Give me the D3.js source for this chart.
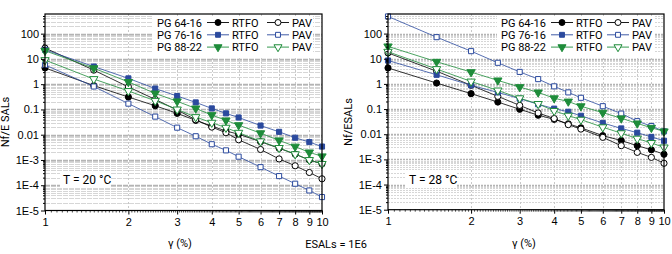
<!DOCTYPE html>
<html>
<head>
<meta charset="utf-8">
<script src="https://cdn.jsdelivr.net/npm/d3@7"></script>
<style>
  body { margin: 0; background: #fff; }
  svg { display: block; font-family: "Liberation Sans Narrow", "Roboto", "Noto Sans", sans-serif; }
</style>
</head>
<body>
<svg id="chart" width="672" height="254"></svg>
<script>
// strain levels (%) used in every series
const strain = [1, 1.5, 2, 2.5, 3, 3.5, 4, 4.5, 5, 6, 7, 8, 9, 10];

// T = 20 °C, Nf / ESALs
const t20_6416_rtfo = [4.4, 0.88, 0.31, 0.14, 0.07, 0.037, 0.022, 0.014, 0.0105, 0.0053, 0.0029, 0.0017, 0.001, 0.0007];
const t20_6416_pav = [27, 3.6, 0.78, 0.25, 0.095, 0.039, 0.02, 0.012, 0.0063, 0.0026, 0.0011, 0.00059, 0.00032, 0.00018];
const t20_7616_rtfo = [23, 5.0, 1.7, 0.67, 0.34, 0.19, 0.11, 0.07, 0.048, 0.023, 0.013, 0.0076, 0.0051, 0.0034];
const t20_7616_pav = [5.8, 0.81, 0.17, 0.052, 0.019, 0.0087, 0.0042, 0.0024, 0.00135, 0.00052, 0.00023, 0.000115, 0.000062, 0.000034];
const t20_8822_rtfo = [21, 4.3, 1.23, 0.43, 0.21, 0.11, 0.06, 0.037, 0.024, 0.0115, 0.006, 0.0034, 0.002, 0.0014];
const t20_8822_pav = [9, 1.6, 0.54, 0.22, 0.1, 0.05, 0.03, 0.019, 0.012, 0.0055, 0.003, 0.0017, 0.001, 0.0007];

// T = 28 °C, Nf / ESALs
const t28_6416_rtfo = [4.3, 1.08, 0.41, 0.19, 0.098, 0.057, 0.039, 0.026, 0.018, 0.0088, 0.0056, 0.0035, 0.0024, 0.0016];
const t28_6416_pav = [17, 3.2, 0.88, 0.32, 0.14, 0.07, 0.042, 0.024, 0.016, 0.0075, 0.0035, 0.0019, 0.0012, 0.0007];
const t28_7616_rtfo = [8.5, 2.3, 0.88, 0.46, 0.26, 0.155, 0.104, 0.078, 0.054, 0.028, 0.017, 0.0115, 0.0078, 0.0055];
const t28_7616_pav = [480, 72, 20, 6.9, 3.0, 1.55, 0.8, 0.46, 0.28, 0.13, 0.066, 0.033, 0.021, 0.013];
const t28_8822_rtfo = [31, 7.6, 2.95, 1.38, 0.75, 0.46, 0.27, 0.2, 0.13, 0.072, 0.043, 0.027, 0.018, 0.013];
const t28_8822_pav = [19, 3.9, 1.25, 0.55, 0.27, 0.16, 0.085, 0.055, 0.038, 0.019, 0.011, 0.0067, 0.0045, 0.003];

const binders = ["PG 64-16", "PG 76-16", "PG 88-22"];
const agings = ["RTFO", "PAV"];
const xTicks = [1, 2, 3, 4, 5, 6, 7, 8, 9, 10];
const yTicks = [1e-5, 1e-4, 1e-3, 0.01, 0.1, 1, 10, 100];
const yTickLabels = ["1E-5", "1E-4", "1E-3", "0.01", "0.1", "1", "10", "100"];

const colors = { "PG 64-16": "#000000", "PG 76-16": "#2b4a9e", "PG 88-22": "#1e8c3a" };
const shapes = {
  "PG 64-16": d3.symbolCircle,
  "PG 76-16": d3.symbolSquare,
  "PG 88-22": d3.symbolTriangle
};

const svg = d3.select("#chart");

function drawPanel(p) {
  const x = d3.scaleLog().domain([1, 10]).range([p.left, p.right]);
  const y = d3.scaleLog().domain([1e-5, 600]).range([p.bottom, p.top]);
  const g = svg.append("g");

  // horizontal grid, every 1..9 per decade
  const hGrid = [];
  for (let e = -5; e <= 2; e++) {
    for (let m = 1; m <= 9; m++) {
      const v = m * Math.pow(10, e);
      if (v > 1e-5 && v < 600) hGrid.push({ v, major: m === 1 });
    }
  }
  g.append("g")
    .selectAll("line")
    .data(hGrid)
    .join("line")
    .attr("x1", p.left)
    .attr("x2", p.right)
    .attr("y1", (d) => Math.round(y(d.v)) + 0.5)
    .attr("y2", (d) => Math.round(y(d.v)) + 0.5)
    .attr("stroke", (d) => (d.major ? "#b4b4b4" : "#d6d6d6"))
    .attr("stroke-width", (d) => (d.major ? 1.5 : 1))
    .attr("stroke-dasharray", p.dash);

  g.append("g")
    .selectAll("line")
    .data(xTicks.slice(1, -1))
    .join("line")
    .attr("x1", (d) => Math.round(x(d)) + 0.5)
    .attr("x2", (d) => Math.round(x(d)) + 0.5)
    .attr("y1", p.top)
    .attr("y2", p.bottom)
    .attr("stroke", "#c8c8c8")
    .attr("stroke-dasharray", "2,2");

  // legend background
  g.append("rect")
    .attr("x", p.legend.x - 4)
    .attr("y", p.top + 2)
    .attr("width", p.legend.w)
    .attr("height", 40)
    .attr("fill", "#fff");

  // temperature label background + text
  g.append("rect")
    .attr("x", p.tempX - 3)
    .attr("y", 172)
    .attr("width", 50)
    .attr("height", 16)
    .attr("fill", "#fff");
  g.append("text")
    .attr("x", p.tempX)
    .attr("y", 184)
    .attr("font-size", 12)
    .text(p.temp);

  const line = d3
    .line()
    .x((d) => x(d[0]))
    .y((d) => y(d[1]));

  p.series.forEach((s) => {
    const pts = strain.map((v, i) => [v, s.values[i]]);
    g.append("path")
      .datum(pts)
      .attr("fill", "none")
      .attr("stroke", colors[s.binder])
      .attr("stroke-width", 0.8)
      .attr("d", line);
    const sym = d3.symbol().type(shapes[s.binder]).size(s.binder === "PG 76-16" ? 26 : 30);
    g.append("g")
      .selectAll("path")
      .data(pts)
      .join("path")
      .attr("transform", (d) => `translate(${x(d[0])},${y(d[1])})` + (s.binder === "PG 88-22" ? " rotate(180)" : ""))
      .attr("d", sym)
      .attr("fill", s.aging === "RTFO" ? colors[s.binder] : "#fff")
      .attr("stroke", colors[s.binder])
      .attr("stroke-width", 1);
  });

  // frame
  g.append("rect")
    .attr("x", p.left)
    .attr("y", p.top)
    .attr("width", p.right - p.left)
    .attr("height", p.bottom - p.top)
    .attr("fill", "none")
    .attr("stroke", "#000")
    .attr("stroke-width", 1.2);

  // y axis
  const yMinor = hGrid.filter((d) => !d.major).map((d) => d.v);
  g.append("g")
    .attr("transform", `translate(${p.left},0)`)
    .call(d3.axisLeft(y).tickValues(yMinor).tickSize(2).tickFormat(""))
    .call((a) => a.select(".domain").remove());
  g.append("g")
    .attr("transform", `translate(${p.left},0)`)
    .call(
      d3.axisLeft(y)
        .tickValues(yTicks)
        .tickSize(4)
        .tickPadding(2)
        .tickFormat((d, i) => yTickLabels[i])
    )
    .call((a) => a.select(".domain").remove())
    .call((a) => a.selectAll("text").attr("font-size", 11).attr("font-family", null));

  // x axis
  const xMinor = d3.range(1.05, 10, 0.05).filter((v) => Math.abs(v - Math.round(v)) > 0.01);
  g.append("g")
    .attr("transform", `translate(0,${p.bottom})`)
    .call(d3.axisBottom(x).tickValues(xMinor).tickSize(2).tickFormat(""))
    .call((a) => a.select(".domain").remove())
    .call((a) => a.selectAll("line").attr("stroke-width", 0.7));
  g.append("g")
    .attr("transform", `translate(0,${p.bottom})`)
    .call(d3.axisBottom(x).tickValues(xTicks).tickSize(4).tickPadding(4).tickFormat(d3.format("d")))
    .call((a) => a.select(".domain").remove())
    .call((a) => a.selectAll("text").attr("font-size", 11).attr("font-family", null));

  g.append("text")
    .attr("x", p.xTitleX)
    .attr("y", 247)
    .attr("text-anchor", "middle")
    .attr("font-size", 11)
    .text("γ (%)");

  g.append("text")
    .attr("transform", `translate(${p.yTitleX},122) rotate(-90)`)
    .attr("text-anchor", "middle")
    .attr("font-size", 11)
    .text(p.yTitle);

  // legend
  binders.forEach((b, i) => {
    const ly = p.legend.y + i * 12.3;
    g.append("text")
      .attr("x", p.legend.x)
      .attr("y", ly + 4)
      .attr("font-size", 11)
      .text(b);
    agings.forEach((a, j) => {
      const sx = p.legend.sym[j];
      g.append("line")
        .attr("x1", sx - 11)
        .attr("x2", sx + 11)
        .attr("y1", ly)
        .attr("y2", ly)
        .attr("stroke", colors[b])
        .attr("stroke-width", 0.9);
      g.append("path")
        .attr("transform", `translate(${sx},${ly})` + (b === "PG 88-22" ? " rotate(180)" : ""))
        .attr("d", d3.symbol().type(shapes[b]).size(b === "PG 76-16" ? 24 : 28)())
        .attr("fill", a === "RTFO" ? colors[b] : "#fff")
        .attr("stroke", colors[b]);
      g.append("text")
        .attr("x", sx + 14)
        .attr("y", ly + 4)
        .attr("font-size", 11)
        .text(a);
    });
  });
}

drawPanel({
  left: 45, right: 322, top: 14, bottom: 210.5,
  dash: "5,1",
  temp: "T = 20 °C", tempX: 63,
  xTitleX: 180, yTitleX: 9, yTitle: "Nf/E SALs",
  legend: { x: 157, y: 22.5, w: 160, sym: [218, 278] },
  series: [
    { binder: "PG 64-16", aging: "RTFO", values: t20_6416_rtfo },
    { binder: "PG 64-16", aging: "PAV", values: t20_6416_pav },
    { binder: "PG 76-16", aging: "RTFO", values: t20_7616_rtfo },
    { binder: "PG 76-16", aging: "PAV", values: t20_7616_pav },
    { binder: "PG 88-22", aging: "RTFO", values: t20_8822_rtfo },
    { binder: "PG 88-22", aging: "PAV", values: t20_8822_pav }
  ]
});

drawPanel({
  left: 388, right: 664, top: 14, bottom: 209.7,
  dash: "2,1",
  temp: "T = 28 °C", tempX: 409,
  xTitleX: 524, yTitleX: 352, yTitle: "Nf/ESALs",
  legend: { x: 501, y: 22.5, w: 157, sym: [562, 618] },
  series: [
    { binder: "PG 64-16", aging: "RTFO", values: t28_6416_rtfo },
    { binder: "PG 64-16", aging: "PAV", values: t28_6416_pav },
    { binder: "PG 76-16", aging: "RTFO", values: t28_7616_rtfo },
    { binder: "PG 76-16", aging: "PAV", values: t28_7616_pav },
    { binder: "PG 88-22", aging: "RTFO", values: t28_8822_rtfo },
    { binder: "PG 88-22", aging: "PAV", values: t28_8822_pav }
  ]
});

svg.append("text")
  .attr("x", 336)
  .attr("y", 248)
  .attr("text-anchor", "middle")
  .attr("font-size", 11)
  .text("ESALs = 1E6");
</script>
</body>
</html>
